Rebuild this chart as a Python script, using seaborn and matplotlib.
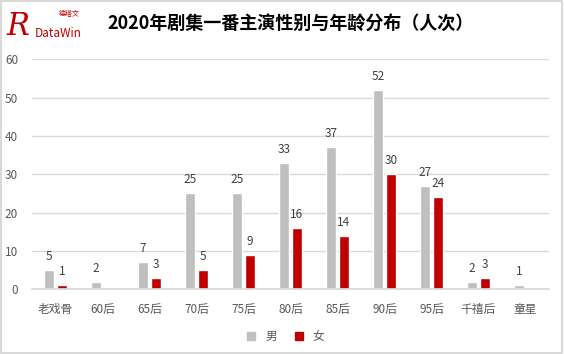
import pandas as pd
import matplotlib
matplotlib.use("Agg")
import matplotlib.pyplot as plt
from matplotlib.patches import Rectangle
import seaborn as sns

sns.set_theme(style="white")
plt.rcParams['font.family'] = ['Noto Sans CJK SC', 'DejaVu Sans']

categories = ['老戏骨', '60后', '65后', '70后', '75后', '80后', '85后', '90后', '95后', '千禧后', '童星']
male = [5, 2, 7, 25, 25, 33, 37, 52, 27, 2, 1]
female = [1, 0, 3, 5, 9, 16, 14, 30, 24, 3, 0]
genders = ['男', '女']
colors = {'男': '#BFBFBF', '女': '#C00000'}

df = pd.DataFrame({
    'cat': categories * 2,
    'count': male + female,
    'gender': ['男'] * len(categories) + ['女'] * len(categories),
})

fig = plt.figure(figsize=(5.64, 3.54), dpi=100)
ax = fig.add_axes([0.0567, 0.183, 0.9167, 0.6495])

sns.barplot(data=df, x='cat', y='count', hue='gender', hue_order=genders,
            palette=colors, width=0.55, gap=0.2, saturation=1, ax=ax,
            legend=False, err_kws={'linewidth': 0})

# value labels (skip zeros)
for cont in ax.containers:
    labels = [f'{int(b.get_height())}' if b.get_height() > 0 else '' for b in cont]
    ax.bar_label(cont, labels=labels, padding=5, fontsize=8.5, color='#404040')

ax.set_ylim(0, 60)
ax.set_yticks(range(0, 61, 10))
ax.set_xlim(-0.5, len(categories) - 0.5)
ax.set_xlabel('')
ax.set_ylabel('')
ax.grid(axis='y', color='#D9D9D9', linewidth=1)
ax.set_axisbelow(True)
for s in ['top', 'right', 'left']:
    ax.spines[s].set_visible(False)
ax.spines['bottom'].set_color('#D9D9D9')
ax.tick_params(axis='both', length=0, labelsize=8.5, colors='#595959')
ax.tick_params(axis='x', pad=10)
ax.tick_params(axis='y', pad=10)

# legend
handles = [plt.Line2D([], [], marker='s', linestyle='', markersize=6,
                      color=colors[g]) for g in genders]
fig.legend(handles, genders, loc='center', bbox_to_anchor=(0.5, 0.05), ncol=2,
           frameon=False, fontsize=8.5, handletextpad=0.2, columnspacing=0.8,
           labelcolor='#595959')

# title
fig.text(0.515, 0.935, '2020年剧集一番主演性别与年龄分布（人次）', ha='center', va='center',
         fontsize=13, fontweight='bold', color='#000000')

# logo approximation
fig.text(0.012, 0.925, 'R', fontsize=22, color='#C00000', ha='left', va='center',
         family=['DejaVu Serif'], style='italic')
fig.text(0.062, 0.905, 'DataWin', fontsize=8.5, color='#C00000', ha='left', va='center')
fig.text(0.105, 0.96, '德塔文', fontsize=5, color='#C00000', ha='left', va='center')

# outer border
fig.patches.append(Rectangle((0.002, 0.003), 0.995, 0.994, transform=fig.transFigure,
                             fill=False, edgecolor='#D9D9D9', linewidth=1.5))

fig.savefig('out.png', dpi=100)
